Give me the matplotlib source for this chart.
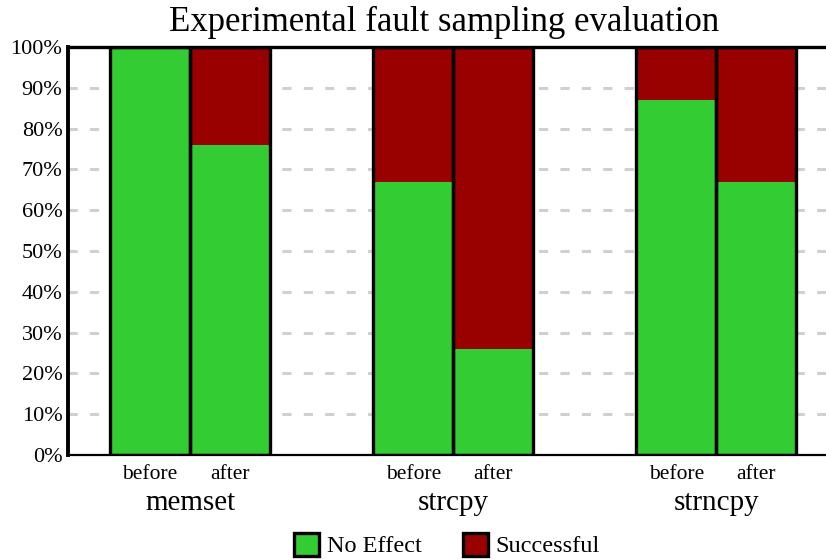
import matplotlib
matplotlib.use("Agg")
import matplotlib.pyplot as plt
from matplotlib.patches import Patch
from matplotlib.transforms import blended_transform_factory

plt.rcParams['font.family'] = ['Liberation Serif', 'DejaVu Serif']

groups = ["memset", "strcpy", "strncpy"]
phases = ["before", "after"]
no_effect = [100, 76, 67, 26, 87, 67]      # percent, per bar
successful = [100 - v for v in no_effect]

green = "#33cc33"
red = "#990000"

W, H = 826, 559
fig = plt.figure(figsize=(W / 100, H / 100), dpi=100)
ax = fig.add_axes([68 / W, 104 / H, (845 - 68) / W, 408 / H])

group_step = 3.29
xs = []
for g in range(len(groups)):
    for p in range(len(phases)):
        xs.append(1.025 + g * group_step + p)

ax.bar(xs, no_effect, width=1.0, color=green, edgecolor="none", zorder=2)
ax.bar(xs, successful, bottom=no_effect, width=1.0, color=red,
       edgecolor="none", zorder=2)
ax.bar(xs, [100] * len(xs), width=1.0, fill=False, edgecolor="black",
       linewidth=2.4, zorder=3)

ax.set_xlim(0, (845 - 68) / 80)
ax.set_ylim(0, 100)
ax.set_yticks(range(0, 101, 10))
ax.set_yticklabels([f"{v}%" for v in range(0, 101, 10)], fontsize=16)
for v in range(10, 100, 10):
    ax.axhline(v, color="#d0d0d0", linewidth=2.2, linestyle=(0, (3, 4)),
               zorder=1)

ax.set_xticks(xs)
ax.set_xticklabels(phases * len(groups), fontsize=15.5)
ax.tick_params(axis="both", length=0, pad=4)
ax.tick_params(axis="x", pad=7)

ax.spines["top"].set_linewidth(2.4)
ax.spines["left"].set_linewidth(2.8)
ax.spines["bottom"].set_linewidth(1.6)
ax.spines["right"].set_visible(False)

trans = blended_transform_factory(ax.transData, fig.transFigure)
for g, name in enumerate(groups):
    cx = 1.025 + g * group_step + 0.5
    ax.text(cx, 1 - 503 / H, name, transform=trans, ha="center",
            va="center", fontsize=21)

fig.suptitle("Experimental fault sampling evaluation", x=444 / W,
             y=1 - 22 / H, va="center", fontsize=25)

handles = [Patch(facecolor=green, edgecolor="black", linewidth=2.4,
                 label="No Effect"),
           Patch(facecolor=red, edgecolor="black", linewidth=2.4,
                 label="Successful")]
fig.legend(handles=handles, loc="center", bbox_to_anchor=(447 / W, 1 - 545 / H),
           ncol=2, frameon=False, fontsize=17.5, handlelength=1.05,
           handleheight=1.1, handletextpad=0.3, columnspacing=1.7,
           borderaxespad=0)

fig.savefig("out.png", dpi=100)
